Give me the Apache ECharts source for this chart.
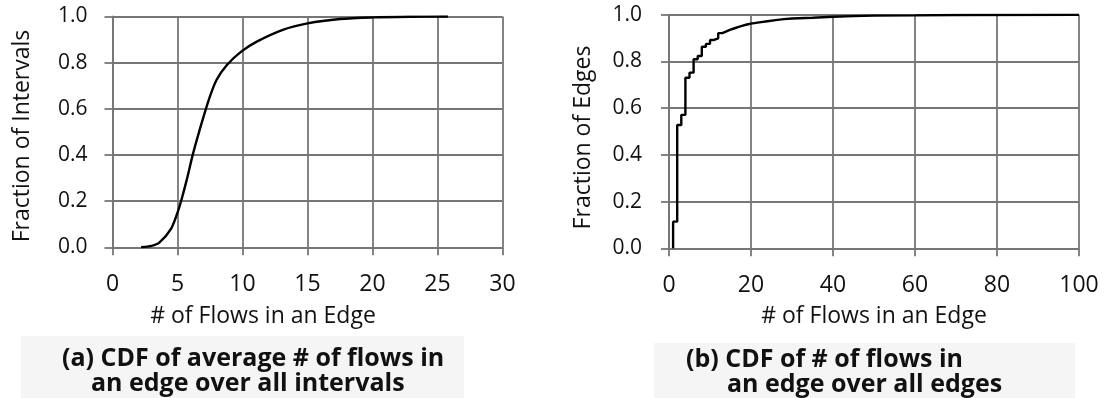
<!DOCTYPE html>
<html>
<head>
<meta charset="utf-8">
<script src="https://cdn.jsdelivr.net/npm/echarts@6/dist/echarts.min.js"></script>
<style>
  html, body { margin: 0; padding: 0; background: #fff; }
  #chart { width: 1107px; height: 398px; }
</style>
</head>
<body>
<div id="chart"></div>
<script>
// (a) CDF of the average number of flows per edge, over all intervals
const avgFlows = [2.2, 3.0, 3.6, 4.5, 5.0, 5.3, 5.7, 6.2, 6.7, 7.4, 8.0, 8.8, 9.9, 11.1, 13.1, 15.0, 17.5, 20.0, 23.0, 25.8];
const avgCdf   = [0, 0.006, 0.02, 0.08, 0.15, 0.205, 0.29, 0.407, 0.508, 0.638, 0.725, 0.79, 0.848, 0.891, 0.942, 0.970, 0.989, 0.996, 0.999, 1.0];

// (b) CDF of the number of flows per edge, over all edges (step curve)
const edgeFlows = [1, 1, 2, 3, 4, 5, 6, 7, 8, 9, 10, 11, 12, 13, 14, 15, 16, 17, 18, 19, 20, 22, 24, 26, 28, 30, 35, 40, 45, 50, 60, 70, 100];
const edgeCdf   = [0, 0.114, 0.528, 0.571, 0.730, 0.752, 0.809, 0.823, 0.863, 0.875, 0.892, 0.899, 0.921, 0.929, 0.936, 0.942, 0.948, 0.953, 0.958, 0.962, 0.967, 0.972, 0.977, 0.981, 0.984, 0.987, 0.991, 0.994, 0.996, 0.997, 0.999, 1.0, 1.0];

const xTicksA = { min: 0, max: 30, interval: 5 };
const xTicksB = { min: 0, max: 100, interval: 20 };
const yTicks  = { min: 0, max: 1, interval: 0.2 };

const xTitle = '# of Flows in an Edge';
const yTitleA = 'Fraction of Intervals';
const yTitleB = 'Fraction of Edges';
const captionA = ['(a) CDF of average # of flows in', 'an edge over all intervals'];
const captionB = ['(b) CDF of # of flows in', 'an edge over all edges'];

const FONT = '"Open Sans", "Noto Sans", sans-serif';
const GRID_COLOR = '#767676';
const GRID_WIDTH = 1.8;

const zip = (xs, ys) => xs.map((x, i) => [x, ys[i]]);

function xAxis(idx, ticks, margin) {
  return {
    type: 'value', gridIndex: idx,
    min: ticks.min, max: ticks.max, interval: ticks.interval,
    axisLine: { show: true, onZero: false, lineStyle: { color: GRID_COLOR, width: GRID_WIDTH } },
    axisTick: { show: true, inside: false, length: 8, lineStyle: { color: GRID_COLOR, width: GRID_WIDTH } },
    splitLine: { show: true, lineStyle: { color: GRID_COLOR, width: GRID_WIDTH } },
    axisLabel: { fontFamily: FONT, fontSize: 23, color: '#111', margin: margin }
  };
}

function yAxis(idx, margin) {
  return {
    type: 'value', gridIndex: idx,
    min: yTicks.min, max: yTicks.max, interval: yTicks.interval,
    axisLine: { show: true, onZero: false, lineStyle: { color: GRID_COLOR, width: GRID_WIDTH } },
    axisTick: { show: true, inside: false, length: 8, lineStyle: { color: GRID_COLOR, width: GRID_WIDTH } },
    splitLine: { show: true, lineStyle: { color: GRID_COLOR, width: GRID_WIDTH } },
    axisLabel: { fontFamily: FONT, fontSize: 21, color: '#111', margin: margin,
                 formatter: v => v.toFixed(1) }
  };
}

function label(text, x, y, opts) {
  opts = opts || {};
  return {
    type: 'text', x: x, y: y, rotation: opts.rotation || 0, z: 10,
    style: {
      text: text, fill: '#111',
      font: (opts.bold ? 'bold ' : '') + (opts.size || 23) + 'px ' + FONT,
      align: opts.align || 'center', verticalAlign: 'middle',
      textAlign: opts.align || 'center', textVerticalAlign: 'middle'
    }
  };
}

const chart = echarts.init(document.getElementById('chart'), null, { renderer: 'canvas' });

chart.setOption({
  animation: false,
  backgroundColor: '#fff',
  grid: [
    { left: 112.5, right: 604.5, top: 16.5, bottom: 150.7 },
    { left: 669, right: 28, top: 14.7, bottom: 149.7 }
  ],
  xAxis: [xAxis(0, xTicksA, 26), xAxis(1, xTicksB, 26)],
  yAxis: [yAxis(0, 25), yAxis(1, 27)],
  series: [
    {
      type: 'line', xAxisIndex: 0, yAxisIndex: 0,
      data: zip(avgFlows, avgCdf),
      smooth: 0.3, showSymbol: false,
      lineStyle: { color: '#000', width: 2.4 }
    },
    {
      type: 'line', xAxisIndex: 1, yAxisIndex: 1,
      data: zip(edgeFlows, edgeCdf),
      step: 'end', showSymbol: false,
      lineStyle: { color: '#000', width: 2.4 }
    }
  ],
  graphic: [
    { type: 'rect', shape: { x: 21, y: 336, width: 443, height: 62 }, style: { fill: '#f5f5f5' }, z: 1 },
    { type: 'rect', shape: { x: 654, y: 343, width: 421, height: 55 }, style: { fill: '#f5f5f5' }, z: 1 },
    label(yTitleA, 22, 136, { rotation: Math.PI / 2 }),
    label(yTitleB, 583, 137.5, { rotation: Math.PI / 2 }),
    label(xTitle, 263, 316),
    label(xTitle, 874, 316),
    label(captionA[0], 62, 359, { bold: true, size: 25, align: 'left' }),
    label(captionA[1], 91, 384, { bold: true, size: 25, align: 'left' }),
    label(captionB[0], 686, 360, { bold: true, size: 25, align: 'left' }),
    label(captionB[1], 727, 385, { bold: true, size: 25, align: 'left' })
  ]
});
</script>
</body>
</html>
